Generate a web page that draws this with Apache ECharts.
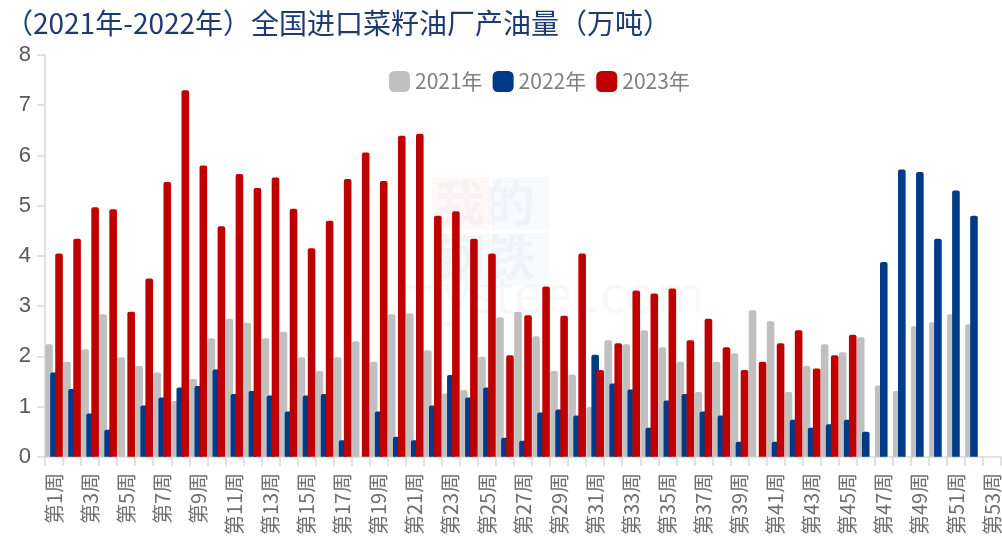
<!DOCTYPE html>
<html><head><meta charset="utf-8">
<script src="https://cdn.jsdelivr.net/npm/echarts@6/dist/echarts.min.js"></script>
<style>html,body{margin:0;padding:0;background:#fff}#c{width:1002px;height:538px}</style>
</head><body><div id="c"></div>
<script>
var weeks = [];
for (var i = 1; i <= 53; i++) weeks.push('第' + i + '周');
var y2021 = [2.24,1.89,2.14,2.84,1.98,1.81,1.68,1.11,1.55,2.36,2.75,2.67,2.36,2.49,1.98,1.71,1.98,2.30,1.89,2.84,2.86,2.12,1.26,1.33,1.99,2.78,2.89,2.40,1.71,1.64,0.99,2.32,2.24,2.52,2.18,1.89,1.29,1.89,2.06,2.92,2.70,1.29,1.81,2.24,2.08,2.38,1.42,1.31,2.60,2.68,2.84,2.64,null];
var y2022 = [1.68,1.35,0.86,0.54,null,1.02,1.18,1.38,1.41,1.74,1.25,1.31,1.22,0.90,1.22,1.25,0.33,null,0.90,0.40,0.33,1.02,1.63,1.18,1.38,0.38,0.32,0.88,0.94,0.82,2.03,1.46,1.34,0.58,1.12,1.25,0.90,0.82,0.30,null,0.30,0.74,0.58,0.65,0.74,0.50,3.88,5.72,5.67,4.34,5.30,4.80,null];
var y2023 = [4.05,4.34,4.97,4.93,2.89,3.55,5.47,7.30,5.80,4.59,5.63,5.35,5.56,4.94,4.15,4.70,5.53,6.06,5.49,6.39,6.43,4.80,4.89,4.34,4.05,2.02,2.82,3.39,2.81,4.05,1.73,2.26,3.31,3.25,3.35,2.32,2.75,2.18,1.73,1.89,2.26,2.52,1.76,2.02,2.43,null,null,null,null,null,null,null,null];
var seriesNames = ['2021年','2022年','2023年'];
var colors = ['#C0C0C0','#003A88','#C00000'];
var yTicks = [0,1,2,3,4,5,6,7,8];

var chart = echarts.init(document.getElementById('c'), null, {renderer:'canvas'});
var datas = [y2021, y2022, y2023];
var series = datas.map(function(d, k){
  return {
    name: seriesNames[k], type: 'bar', data: d,
    barWidth: 7.6, barGap: '-34%',
    itemStyle: {color: colors[k], borderRadius: [2,2,0,0]},
    z: 2 + k
  };
});
chart.setOption({
  animation: false,
  title: {
    text: '（2021年-2022年）全国进口菜籽油厂产油量（万吨）',
    left: 0, top: 4,
    textStyle: {color: '#1F3A70', fontSize: 28, fontWeight: 'normal', fontFamily: 'Noto Sans CJK SC'}
  },
  graphic: [
    {type:'rect', left: 432, top: 177, shape:{width:57,height:53}, style:{fill:'rgba(220,60,60,0.035)'}},
    {type:'rect', left: 492, top: 177, shape:{width:57,height:53}, style:{fill:'rgba(60,90,180,0.03)'}},
    {type:'rect', left: 432, top: 233, shape:{width:57,height:53}, style:{fill:'rgba(60,90,180,0.03)'}},
    {type:'rect', left: 492, top: 233, shape:{width:57,height:53}, style:{fill:'rgba(60,90,180,0.03)'}},
    {type:'text', left: 435, top: 178, style:{text:'我的', fill:'rgba(200,200,210,0.12)', font:'bold 50px "Noto Sans CJK SC"'}},
    {type:'text', left: 435, top: 232, style:{text:'钢铁', fill:'rgba(200,200,210,0.12)', font:'bold 50px "Noto Sans CJK SC"'}},
    {type:'text', left: 395, top: 272, style:{text:'mysteel.com', fill:'rgba(200,200,210,0.12)', font:'52px "Noto Sans"'}}
  ],
  legend: {
    data: seriesNames, left: 384, top: 66,
    itemWidth: 21, itemHeight: 21, itemGap: 10,
    icon: 'roundRect',
    textStyle: {color: '#7F7F7F', fontSize: 21, fontFamily: 'Noto Sans CJK SC'}
  },
  grid: {left: 45, right: -1, top: 55, bottom: 81, containLabel: false},
  xAxis: {
    type: 'category', data: weeks,
    boundaryGap: true,
    axisLine: {lineStyle: {color: '#D9D9D9', width: 1.5}},
    axisTick: {show: true, interval: 0, length: 9, lineStyle: {color: '#D9D9D9', width: 1.5}},
    axisLabel: {interval: 1, rotate: 90, color: '#6E6E6E', fontSize: 20, margin: 16, fontFamily: 'Noto Sans CJK SC'}
  },
  yAxis: {
    type: 'value', min: 0, max: 8, interval: 1,
    splitLine: {show: false},
    axisLine: {show: true, lineStyle: {color: '#D9D9D9', width: 1.5}},
    axisTick: {show: true, length: 8, lineStyle: {color: '#D9D9D9', width: 1.5}},
    axisLabel: {color: '#595959', fontSize: 22, margin: 14, fontFamily: 'Liberation Sans',
      formatter: function(v){ return yTicks.indexOf(v) >= 0 ? String(v) : ''; }}
  },
  series: series
});
</script></body></html>
